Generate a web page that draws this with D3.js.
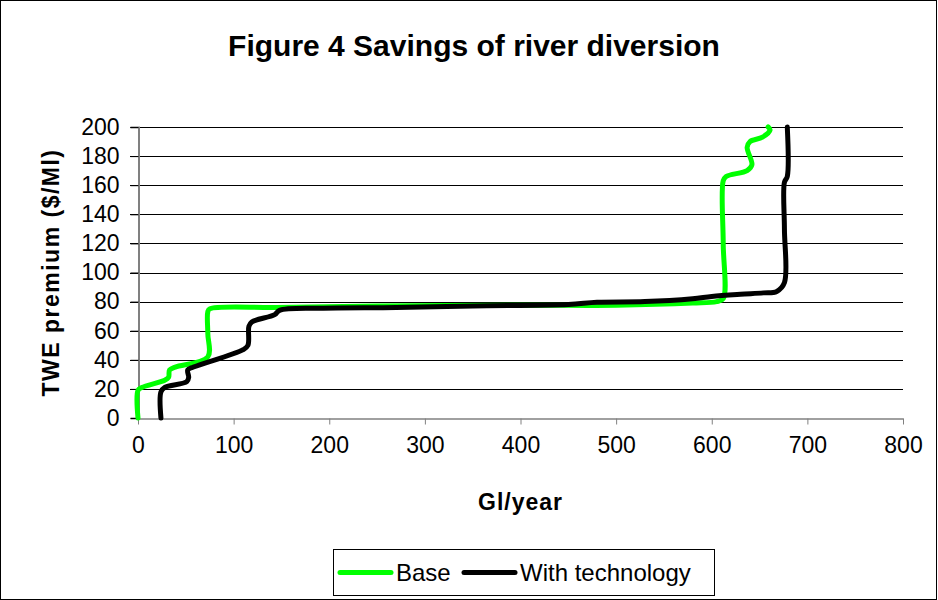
<!DOCTYPE html>
<html>
<head>
<meta charset="utf-8">
<script src="https://cdn.jsdelivr.net/npm/d3@7"></script>
<style>
  body { margin: 0; background: #fff; }
  text { font-family: "Liberation Sans", Arial, sans-serif; }
</style>
</head>
<body>
<div id="chart"></div>
<script>
// Data: [Gl/year, TWE premium $/Ml]
const basePoints = [
  [0, 0], [0, 19], [4, 21], [28, 26], [32, 28], [33, 33], [39, 35], [73, 42],
  [73, 58], [73, 73], [75, 75], [145, 76], [250, 77], [400, 77.5], [500, 77.5], [580, 79],
  [605, 80], [612, 82], [612, 120], [612, 163], [615, 166], [637, 170], [642, 174], [637, 186],
  [640, 190], [653, 193], [661, 198], [659, 200]
];
const techPoints = [
  [24, 0], [24, 18], [28, 21], [51, 25], [53, 28], [52, 33], [58, 35], [110, 47],
  [115, 50], [116, 63], [119, 66], [143, 71], [148, 74], [190, 75.5], [270, 76],
  [350, 77], [450, 78], [480, 79.5], [530, 80], [580, 82], [600, 83.5], [630, 85],
  [654, 86], [668, 87], [676, 93], [676, 130], [676, 162], [679, 166], [679, 200]
];
const seriesNames = ["Base", "With technology"];
const seriesColors = ["#00ff00", "#000000"];
const xTicks = [0, 100, 200, 300, 400, 500, 600, 700, 800];
const yTicks = [0, 20, 40, 60, 80, 100, 120, 140, 160, 180, 200];

const W = 938, H = 600;
const plot = { left: 138, right: 903, top: 127, bottom: 418 };

const svg = d3.select("#chart").append("svg")
    .attr("width", W)
    .attr("height", H);

// outer frame
svg.append("rect")
    .attr("x", 0.5).attr("y", 0.5)
    .attr("width", W - 2).attr("height", H - 1)
    .attr("fill", "#fff").attr("stroke", "#000");

// title
svg.append("text")
    .attr("x", 474).attr("y", 56)
    .attr("text-anchor", "middle")
    .attr("font-size", 30).attr("font-weight", "bold")
    .text("Figure 4 Savings of river diversion");

const x = d3.scaleLinear().domain([0, 800]).range([plot.left, plot.right]);
const y = d3.scaleLinear().domain([0, 200]).range([plot.bottom, plot.top]);

// gridlines (with the left tick stubs)
svg.append("g")
  .selectAll("line")
  .data(yTicks.slice(1))
  .join("line")
    .attr("x1", plot.left - 8).attr("x2", plot.right)
    .attr("y1", d => Math.round(y(d)) + 0.5).attr("y2", d => Math.round(y(d)) + 0.5)
    .attr("stroke", "#000").attr("stroke-width", 1);

// y axis
const yAxis = svg.append("g")
    .attr("transform", `translate(${plot.left + 0.5},0)`)
    .call(d3.axisLeft(y).tickValues(yTicks).tickSize(8).tickPadding(11));
yAxis.select(".domain").attr("stroke", "#808080").attr("stroke-width", 2);
yAxis.selectAll(".tick line").attr("stroke", "#000");
yAxis.selectAll(".tick text")
    .attr("font-size", 23).attr("fill", "#000")
    .attr("font-family", "Liberation Sans, Arial, sans-serif");

// x axis
const xAxis = svg.append("g")
    .attr("transform", `translate(0,${plot.bottom + 0.5})`)
    .call(d3.axisBottom(x).tickValues(xTicks).tickSize(6).tickSizeOuter(0).tickPadding(12));
xAxis.select(".domain").attr("stroke", "#808080").attr("stroke-width", 1.5);
xAxis.selectAll(".tick line").attr("stroke", "#808080");
xAxis.selectAll(".tick text")
    .attr("font-size", 23).attr("fill", "#000")
    .attr("font-family", "Liberation Sans, Arial, sans-serif");

// axis titles
svg.append("text")
    .attr("transform", `translate(59,${(plot.top + plot.bottom) / 2}) rotate(-90)`)
    .attr("text-anchor", "middle")
    .attr("font-size", 23).attr("font-weight", "bold")
    .attr("letter-spacing", 1.5)
    .text("TWE premium ($/Ml)");
svg.append("text")
    .attr("x", (plot.left + plot.right) / 2).attr("y", 510)
    .attr("text-anchor", "middle")
    .attr("font-size", 23).attr("font-weight", "bold")
    .attr("letter-spacing", 1)
    .text("Gl/year");

// lines
const line = d3.line()
    .x(d => x(d[0]))
    .y(d => y(d[1]))
    .curve(d3.curveCatmullRom.alpha(0.5));

[basePoints, techPoints].forEach((pts, i) => {
  svg.append("path")
      .datum(pts)
      .attr("d", line)
      .attr("fill", "none")
      .attr("stroke", seriesColors[i])
      .attr("stroke-width", 5)
      .attr("stroke-linejoin", "round")
      .attr("stroke-linecap", "round");
});

// legend
const legend = svg.append("g");
legend.append("rect")
    .attr("x", 333.5).attr("y", 549.5)
    .attr("width", 381).attr("height", 46)
    .attr("fill", "#fff").attr("stroke", "#000");
const legendItems = [
  { x: 340, name: seriesNames[0], color: seriesColors[0] },
  { x: 464, name: seriesNames[1], color: seriesColors[1] }
];
legendItems.forEach(d => {
  legend.append("line")
      .attr("x1", d.x).attr("x2", d.x + 51)
      .attr("y1", 572.5).attr("y2", 572.5)
      .attr("stroke", d.color).attr("stroke-width", 5)
      .attr("stroke-linecap", "round");
  legend.append("text")
      .attr("x", d.x + 56).attr("y", 581)
      .attr("font-size", 24)
      .text(d.name);
});
</script>
</body>
</html>
